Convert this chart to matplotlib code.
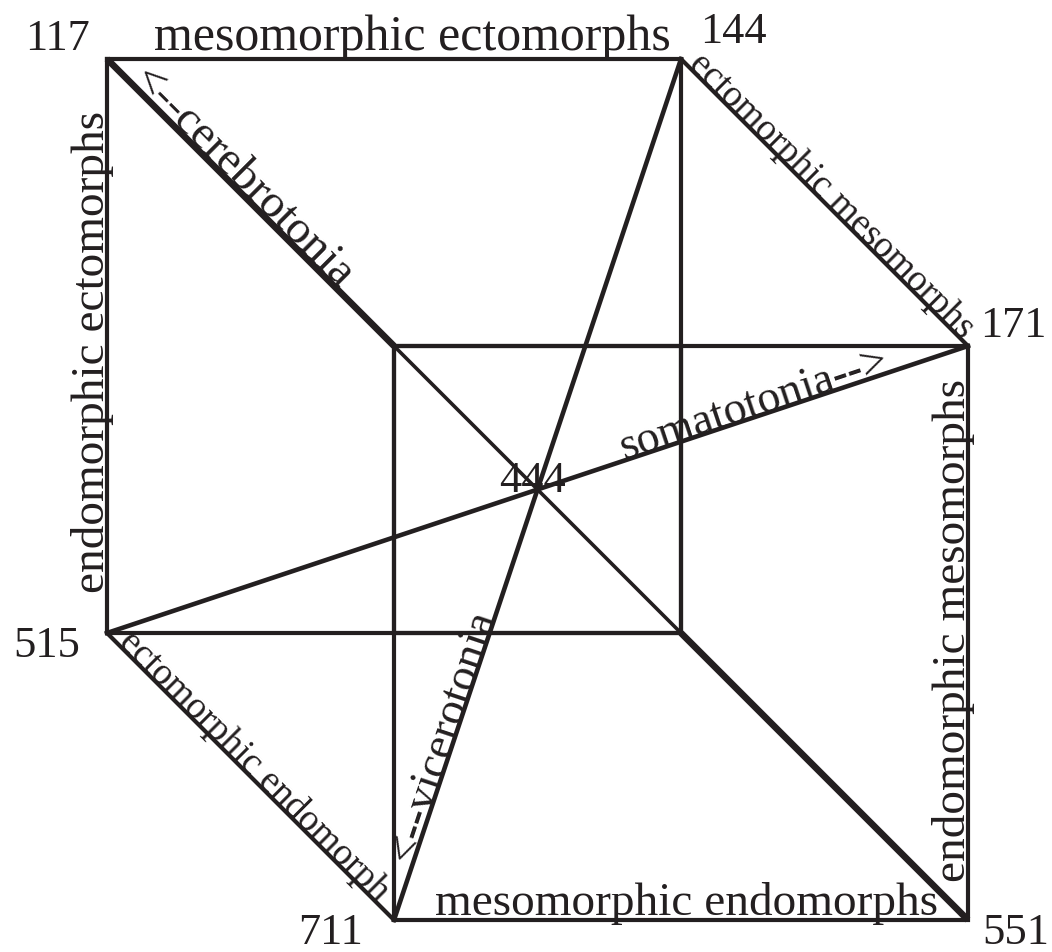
import matplotlib.pyplot as plt

plt.rcParams['font.family'] = ['Liberation Serif', 'DejaVu Serif']

INK = '#231f20'

# corners of the hexagon (somatotype ratings), grid units
corner_names = ["117", "144", "171", "551", "711", "515"]
corner_x = [0, 2, 3, 3, 1, 0]
corner_y = [3, 3, 2, 0, 0, 1]

# inner square
inner_x = [1, 2, 2, 1]
inner_y = [2, 2, 1, 1]

center_name = "444"
center_x, center_y = 1.5, 1.5

# edge labels: text, x, y, rotation, size
edge_text = ["mesomorphic ectomorphs", "endomorphic ectomorphs",
             "mesomorphic endomorphs", "endomorphic mesomorphs",
             "ectomorphic mesomorphs", "ectomorphic endomorph"]
edge_x = [1.063, -0.012, 2.02, 2.99, 2.5, 0.49]
edge_y = [3.031, 1.981, 0.017, 1.01, 2.5, 0.51]
edge_rot = [0, 90, 0, 90, -45, -45]
edge_size = [36, 34, 34, 34, 27, 27]

# temperament axes
axis_text = ["<--cerebrotonia", "somatotonia-->", "<--vicerotonia"]
axis_x = [0.444, 2.267, 1.21]
axis_y = [2.556, 1.756, 0.63]
axis_rot = [-45, 18.43, 71.57]
axis_size = [34, 33, 33]

# where the corner numbers sit
num_x = [-0.059, 2.066, 3.042, 3.049, 0.892, -0.094]
num_y = [3.031, 3.056, 2.031, -0.085, -0.085, 0.916]
num_ha = ["right", "left", "left", "left", "right", "right"]

fig = plt.figure(figsize=(10.52, 9.52), dpi=100)
ax = fig.add_axes([107 / 1052, 32 / 952, 861 / 1052, 861 / 952])
ax.set_xlim(0, 3)
ax.set_ylim(0, 3)
ax.axis('off')

lw = 3.0

# hexagon outline
hx = corner_x + corner_x[:1]
hy = corner_y + corner_y[:1]
ax.plot(hx, hy, color=INK, lw=lw, solid_joinstyle='miter', clip_on=False)

# inner square
ax.plot(inner_x + inner_x[:1], inner_y + inner_y[:1], color=INK, lw=lw,
        solid_joinstyle='miter', clip_on=False)

# cube edges running from the outer corners to the inner square
for ci, ii in [(1, 2), (2, 0), (4, 0), (5, 2)]:
    ax.plot([corner_x[ci], inner_x[ii]], [corner_y[ci], inner_y[ii]],
            color=INK, lw=lw, clip_on=False)

# main diagonal 117 -> 551, heavy at both ends
ax.plot([corner_x[0], inner_x[0]], [corner_y[0], inner_y[0]], color=INK, lw=4.8,
        solid_capstyle='butt', clip_on=False)
ax.plot([inner_x[0], inner_x[2]], [inner_y[0], inner_y[2]], color=INK, lw=2.6,
        clip_on=False)
ax.plot([inner_x[2], corner_x[3]], [inner_y[2], corner_y[3]], color=INK, lw=4.8,
        solid_capstyle='butt', clip_on=False)

# the other two diagonals through 444
ax.plot([corner_x[1], corner_x[4]], [corner_y[1], corner_y[4]], color=INK, lw=3.3,
        clip_on=False)
ax.plot([corner_x[2], corner_x[5]], [corner_y[2], corner_y[5]], color=INK, lw=3.3,
        clip_on=False)

for t, x, y, r, s in zip(edge_text, edge_x, edge_y, edge_rot, edge_size):
    ax.text(x, y, t, rotation=r, rotation_mode='anchor', ha='center',
            va='baseline', fontsize=s, color=INK)

for t, x, y, r, s in zip(axis_text, axis_x, axis_y, axis_rot, axis_size):
    ax.text(x, y, t, rotation=r, rotation_mode='anchor', ha='center',
            va='baseline', fontsize=s, color=INK)

for t, x, y, h in zip(corner_names, num_x, num_y, num_ha):
    ax.text(x, y, t, ha=h, va='baseline', fontsize=32, color=INK)

ax.text(center_x - 0.019, center_y - 0.009, center_name, ha='center',
        va='baseline', fontsize=32, color=INK, fontweight='light')

fig.savefig('out.png', dpi=100)
